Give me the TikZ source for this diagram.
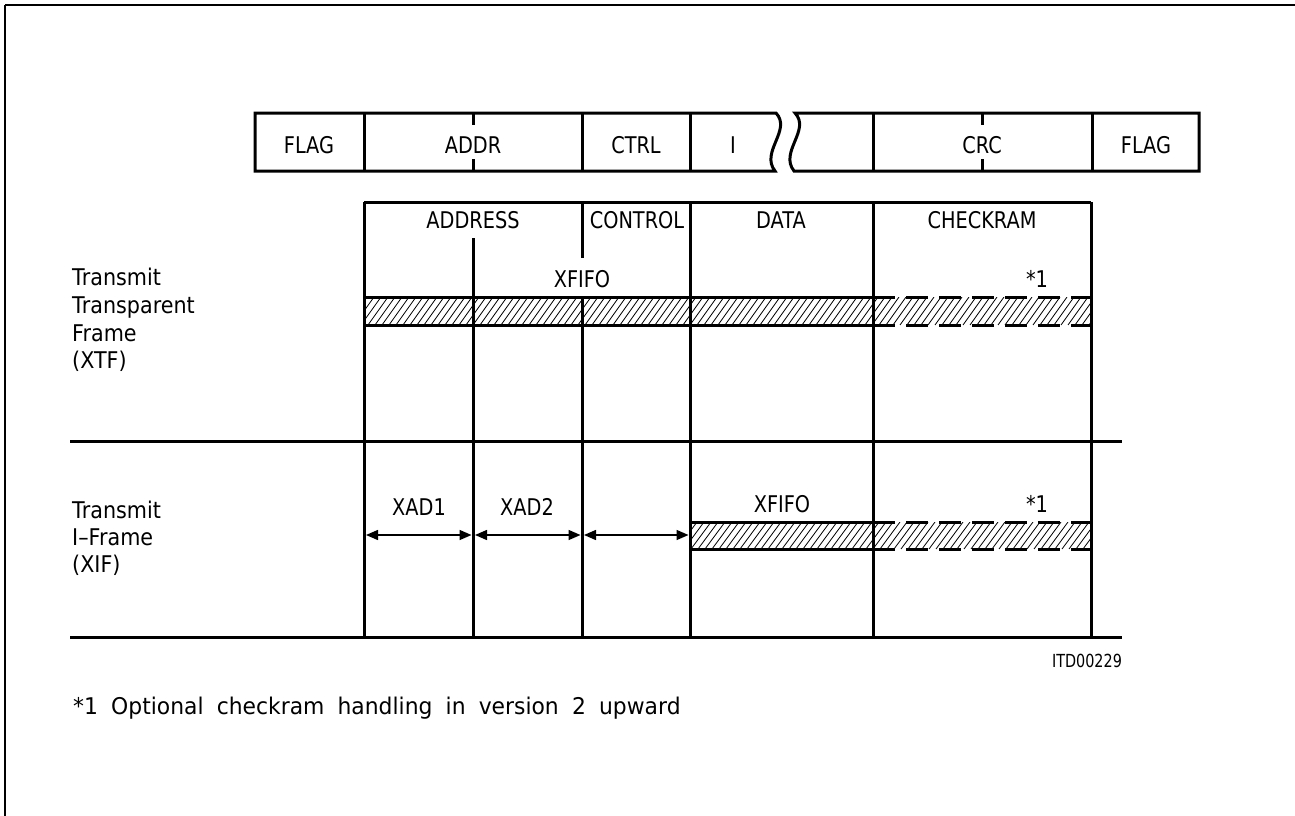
\documentclass[tikz,border=0pt]{standalone}
\usepackage{fontspec}
\setmainfont{DejaVu Sans}
\newfontfamily\capfont[FakeStretch=0.84]{DejaVu Sans}
\newfontfamily\lowfont[FakeStretch=0.9]{DejaVu Sans}
\newfontfamily\smallfont[FakeStretch=0.8]{DejaVu Sans}
\newfontfamily\notefont[FakeStretch=0.95,WordSpace=1.9]{DejaVu Sans}
\usetikzlibrary{arrows.meta}
\tikzset{
  heavy/.style={line width=3pt},
  border/.style={line width=2.5pt},
  hatchline/.style={line width=0.8pt},
  dashedge/.style={line width=3pt, dash pattern=on 22pt off 11pt},
  caplabel/.style={font=\capfont\fontsize{23}{27}\selectfont, inner sep=0pt, anchor=base},
  smalllabel/.style={font=\smallfont\fontsize{18}{21}\selectfont, inner sep=0pt, anchor=base},
  sidelabel/.style={font=\lowfont\fontsize{23}{27}\selectfont, inner sep=0pt, anchor=base west},
  notelabel/.style={font=\notefont\fontsize{23}{27}\selectfont, inner sep=0pt, anchor=base west},
  dimarrow/.style={line width=1.5pt, {Triangle[length=12pt,width=10pt]}-{Triangle[length=12pt,width=10pt]}}
}
\begin{document}
\begin{tikzpicture}[x=1pt,y=-1pt]
\useasboundingbox (0,0) rectangle (1295,816);
% page border (top and left)
\draw[border] (5,5) -- (1295,5);
\draw[border] (5,5) -- (5,816);

% ---------- frame format bar ----------
\draw[heavy] (255,113) -- (776,113) .. controls (792,130) and (760,152) .. (775,171) -- (255,171) -- cycle;
\draw[heavy] (795,113) -- (1199,113) -- (1199,171) -- (794,171) .. controls (779,152) and (811,130) .. (795,113) -- cycle;
\foreach \x in {364,582,690,873,1092} \draw[heavy] (\x,113) -- (\x,171);
\foreach \x in {473,982} {\draw[heavy] (\x,113) -- (\x,125); \draw[heavy] (\x,159) -- (\x,171);}
\node[caplabel] (fflag1) at (309,153) {FLAG};
\node[caplabel] (faddr) at (473,153) {ADDR};
\node[caplabel] (fctrl) at (636,153) {CTRL};
\node[caplabel] (fi) at (733,153) {I};
\node[caplabel] (fcrc) at (982,153) {CRC};
\node[caplabel] (fflag2) at (1146,153) {FLAG};

% ---------- column grid ----------
\draw[heavy] (364,202) -- (1091,202);
\draw[heavy] (364,202) -- (364,637);
\draw[heavy] (473,238) -- (473,637);
\draw[heavy] (582,202) -- (582,258);
\draw[heavy] (582,297) -- (582,637);
\draw[heavy] (690,202) -- (690,637);
\draw[heavy] (873,202) -- (873,637);
\draw[heavy] (1091,202) -- (1091,637);
\draw[heavy] (70,441) -- (1122,441);
\draw[heavy] (70,637) -- (1122,637);

\node[caplabel] (haddr) at (473,228) {ADDRESS};
\node[caplabel] (hctrl) at (637,228) {CONTROL};
\node[caplabel] (hdata) at (781,228) {DATA};
\node[caplabel] (hcheck) at (982,228) {CHECKRAM};

% ---------- XTF ----------
\begin{scope}
\clip (364,297) rectangle (1091,325);
\foreach \x in {340,347,...,1100} \draw[hatchline] (\x,325) -- ++(20,-28);
\end{scope}
\draw[heavy] (364,297) -- (873,297);
\draw[heavy] (364,325) -- (873,325);
\draw[dashedge] (873,297) -- (1091,297);
\draw[dashedge] (873,325) -- (1091,325);
\node[caplabel] (xtffifo) at (582,287) {XFIFO};
\node[caplabel] (xtfstar) at (1037,287) {*1};

\node[sidelabel] (xtfa) at (72,285) {Transmit};
\node[sidelabel] (xtfb) at (72,313) {Transparent};
\node[sidelabel] (xtfc) at (72,341) {Frame};
\node[sidelabel] (xtfd) at (72,368) {(XTF)};

% ---------- XIF ----------
\begin{scope}
\clip (690,522) rectangle (1091,549);
\foreach \x in {670,677,...,1100} \draw[hatchline] (\x,549) -- ++(20,-27);
\end{scope}
\draw[heavy] (690,522) -- (873,522);
\draw[heavy] (690,549) -- (873,549);
\draw[dashedge] (873,522) -- (1091,522);
\draw[dashedge] (873,549) -- (1091,549);
\node[caplabel] (xiffifo) at (782,512) {XFIFO};
\node[caplabel] (xifstar) at (1037,512) {*1};
\node[caplabel] (xad1) at (419,515) {XAD1};
\node[caplabel] (xad2) at (527,515) {XAD2};

\coordinate (a1l) at (366,535); \coordinate (a1r) at (471.5,535);
\coordinate (a2l) at (475,535); \coordinate (a2r) at (580.5,535);
\coordinate (a3l) at (584,535); \coordinate (a3r) at (688.5,535);
\draw[dimarrow] (a1l) -- (a1r);
\draw[dimarrow] (a2l) -- (a2r);
\draw[dimarrow] (a3l) -- (a3r);

\node[sidelabel] (xifa) at (72,518) {Transmit};
\node[sidelabel] (xifb) at (72,545) {I–Frame};
\node[sidelabel] (xifc) at (72,572) {(XIF)};

% ---------- footer ----------
\node[smalllabel] (itd) at (1087,667) {ITD00229};
\node[notelabel] (note) at (73,714) {*1 Optional checkram handling in version 2 upward};
\end{tikzpicture}
\end{document}
